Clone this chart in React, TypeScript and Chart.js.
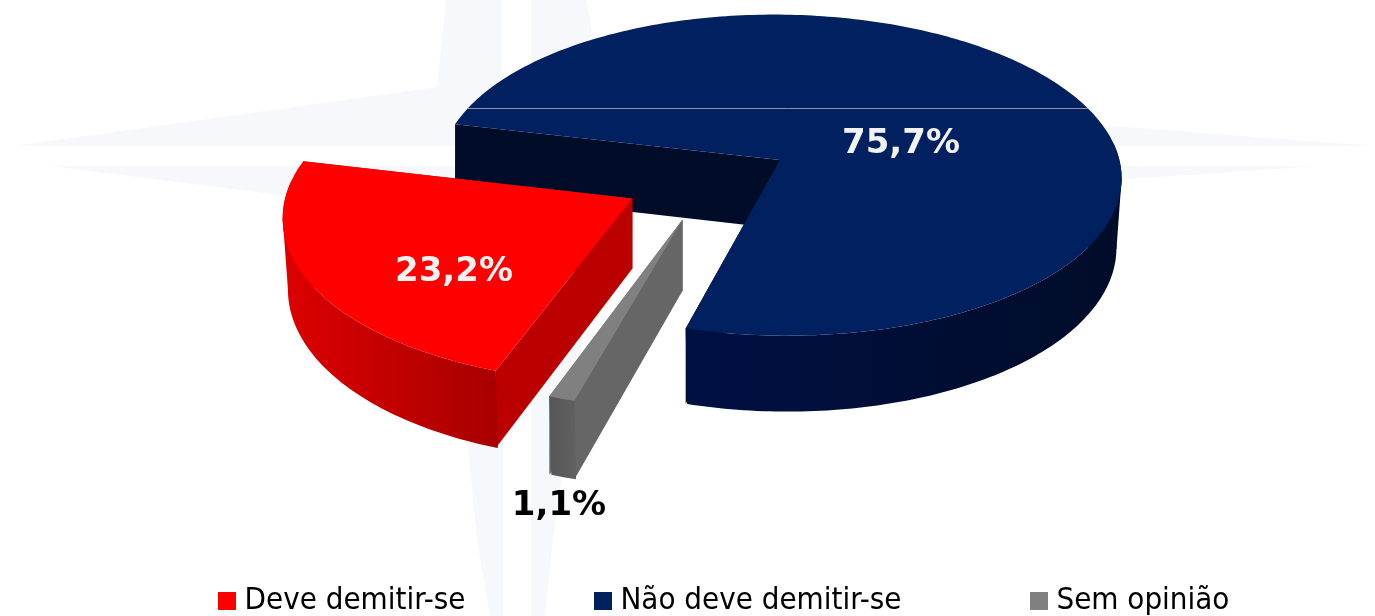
import React, { useEffect, useRef } from "react";
import { Chart, registerables } from "chart.js";

Chart.register(...registerables);

const categories = ["Deve demitir-se", "Não deve demitir-se", "Sem opinião"];
const shares = [23.2, 75.7, 1.1];
const valueLabels = ["23,2%", "75,7%", "1,1%"];

const topColors = ["#ff0000", "#002060", "#808080"];
const wallColors = ["#bb0000", "#000c28", "#666666"];
const sideStops = [
  ["#dd0000", "#a80000"],
  ["#001043", "#000c28"],
  ["#565656", "#606060"],
];
const labelColors = ["#f2f2f2", "#f2f2f2", "#000000"];
const labelCenters = [
  [454, 272],
  [901, 144],
  [559, 506],
];
const explodeX = [-77, 70.5, -27];
const explodeZ = [43, -38, 86];

const CX = 710.2;
const CY = 177.8;
const R = 343;
const D = 3600;
const TILT = 0.4737;
const H = 69.5;
const BOTTOM_SHRINK = 0.985;

function project(X: number, Z: number, low: boolean) {
  const p = D / (D - Z);
  return [CX + X * p, CY + TILT * Z * p + (low ? H * p : 0)];
}

function trace(ctx: CanvasRenderingContext2D, pts: number[][]) {
  ctx.beginPath();
  pts.forEach((q, i) => (i ? ctx.lineTo(q[0], q[1]) : ctx.moveTo(q[0], q[1])));
  ctx.closePath();
}

const pie3d = {
  id: "pie3d",
  beforeDraw(chart: any) {
    const { ctx } = chart;
    ctx.save();
    ctx.fillStyle = "#f6f8fc";
    const star = [
      [[13, 146], [437, 87], [446, 0], [502, 0], [502, 146]],
      [[531, 0], [587, 0], [600, 87], [1375, 146], [531, 146]],
      [[50, 166], [445, 216], [477, 540], [490, 616], [503, 616], [503, 166]],
      [[531, 166], [1318, 166], [600, 216], [553, 540], [545, 616], [531, 616]],
    ];
    star.forEach((s) => {
      trace(ctx, s);
      ctx.fill();
    });
    ctx.restore();
  },
  beforeDatasetDraw() {
    return false;
  },
  afterDatasetsDraw(chart: any) {
    const { ctx } = chart;
    const arcs = chart.getDatasetMeta(0).data;
    ctx.save();
    [1, 0, 2].forEach((i) => {
      const a = arcs[i];
      const ox = explodeX[i];
      const oz = explodeZ[i];
      const n = Math.max(4, Math.ceil(((a.endAngle - a.startAngle) * 180) / Math.PI));
      const rim: number[][] = [];
      for (let k = 0; k <= n; k++) {
        const t = a.startAngle + ((a.endAngle - a.startAngle) * k) / n;
        rim.push([ox + R * Math.cos(t), oz + R * Math.sin(t)]);
      }
      const apexT = project(ox, oz, false);
      const apexB = project(ox, oz, true);
      const top = rim.map((q) => project(q[0], q[1], false));
      const low = rim.map((q) => {
        const b = project(q[0], q[1], true);
        return [apexT[0] + (b[0] - apexT[0]) * BOTTOM_SHRINK, b[1]];
      });

      const xs = top.map((q) => q[0]);
      const g = ctx.createLinearGradient(
        i === 1 ? apexT[0] - 93 : Math.min(...xs),
        0,
        i === 1 ? Math.max(...xs) : Math.max(top[0][0], top[n][0]),
        0
      );
      g.addColorStop(0, sideStops[i][0]);
      g.addColorStop(1, sideStops[i][1]);

      // tangent between the widest points of the top rim and the bottom rim
      if (i < 2) {
        const pick = (list: number[][]) =>
          list.reduce((b, q) => ((i === 1 ? q[0] > b[0] : q[0] < b[0]) ? q : b));
        ctx.fillStyle = g;
        trace(ctx, [apexT, pick(top), pick(low), apexB]);
        ctx.fill();
      }

      ctx.fillStyle = wallColors[i];
      trace(ctx, [apexT, top[n], [top[n][0], low[n][1]], apexB]);
      ctx.fill();
      trace(ctx, [apexT, top[0], [top[0][0], low[0][1]], apexB]);
      ctx.fill();

      ctx.fillStyle = g;
      const front = rim
        .map((_, k) => k)
        .filter((k) => Math.sin(a.startAngle + ((a.endAngle - a.startAngle) * k) / n) > -0.12);
      if (front.length > 1) {
        trace(ctx, [...front.map((k) => top[k]), ...front.slice().reverse().map((k) => low[k])]);
        ctx.fill();
      }

      trace(ctx, [apexT, ...top]);
      ctx.fillStyle = topColors[i];
      ctx.fill();

      if (i === 1) {
        ctx.save();
        ctx.clip();
        ctx.strokeStyle = "#8b93a8";
        ctx.lineWidth = 1;
        ctx.beginPath();
        ctx.moveTo(300, 108.5);
        ctx.lineTo(1200, 108.5);
        ctx.stroke();
        ctx.restore();
      }
    });

    ctx.font = 'bold 34px "DejaVu Sans"';
    ctx.textAlign = "center";
    ctx.textBaseline = "middle";
    valueLabels.forEach((t, i) => {
      ctx.fillStyle = labelColors[i];
      ctx.fillText(t, labelCenters[i][0], labelCenters[i][1]);
    });
    ctx.restore();
  },
};

function swatch(color: string) {
  const c = document.createElement("canvas");
  c.width = 18;
  c.height = 18;
  const x = c.getContext("2d")!;
  x.fillStyle = color;
  x.fillRect(0, 0, 18, 18);
  return c;
}

export default function App() {
  const ref = useRef<HTMLCanvasElement>(null);
  useEffect(() => {
    document.body.style.margin = "0";
    document.body.style.background = "#ffffff";
    const chart = new Chart(ref.current!, {
      type: "pie",
      data: {
        labels: categories,
        datasets: [{ data: shares, backgroundColor: topColors, borderWidth: 0 }],
      },
      options: {
        responsive: false,
        animation: false,
        rotation: -160.3,
        layout: { padding: { left: 79.5, bottom: -10.5 } },
        plugins: {
          tooltip: { enabled: false },
          legend: {
            position: "bottom",
            labels: {
              usePointStyle: true,
              pointStyleWidth: 4,
              padding: 135.5,
              color: "#000000",
              font: { family: '"DejaVu Sans Condensed", "DejaVu Sans"', size: 31 },
              generateLabels: () =>
                categories.map((text, i) => ({
                  text,
                  datasetIndex: 0,
                  index: i,
                  fillStyle: topColors[i],
                  strokeStyle: topColors[i],
                  lineWidth: 0,
                  hidden: false,
                  pointStyle: swatch(topColors[i]) as any,
                })),
            },
          },
        },
      },
      plugins: [pie3d],
    } as any);
    return () => chart.destroy();
  }, []);
  return <canvas ref={ref} width={1375} height={616} style={{ display: "block" }} />;
}
